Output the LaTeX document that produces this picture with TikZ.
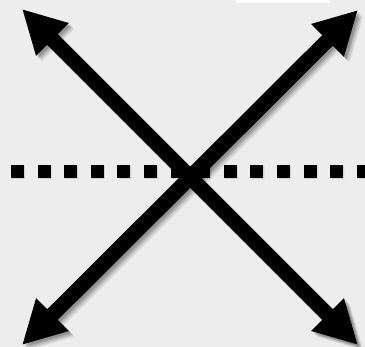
\documentclass[tikz,border=0pt]{standalone}
\usetikzlibrary{arrows.meta}
\definecolor{bggrey}{HTML}{EDEDED}
\begin{document}
\begin{tikzpicture}[x=1pt,y=-1pt,
  bigarrow/.style={line width=15pt,{Triangle[length=43pt,width=43pt]}-{Triangle[length=43pt,width=43pt]}},
  dotline/.style={line width=13pt,dash pattern=on 13pt off 13.6pt}]
\fill[bggrey] (0,0) rectangle (365,347);
\fill[white] (236,0) rectangle (330,3);
\useasboundingbox (0,0) rectangle (365,347);
\coordinate (tl) at (22,9);
\coordinate (br) at (358,345);
\coordinate (tr) at (358,10);
\coordinate (bl) at (22,345);
\coordinate (dl) at (11,171.5);
\coordinate (dr) at (372,171.5);
% dotted line shadow and line
\begin{scope}[transparency group,opacity=0.25]
\draw[dotline,gray] ([shift={(1,1)}]dl) -- ([shift={(1,1)}]dr);
\end{scope}
\draw[dotline] (dl) -- (dr);
% arrow shadows
\foreach \o/\op in {6/0.05,5/0.07,4/0.09,3/0.11,2/0.13}{
\begin{scope}[transparency group,opacity=\op]
\draw[bigarrow] ([shift={(\o,\o)}]tl) -- ([shift={(\o,\o)}]br);
\draw[bigarrow] ([shift={(\o,\o)}]tr) -- ([shift={(\o,\o)}]bl);
\end{scope}}
% arrows
\draw[bigarrow] (tl) -- (br);
\draw[bigarrow] (tr) -- (bl);
\end{tikzpicture}
\end{document}
